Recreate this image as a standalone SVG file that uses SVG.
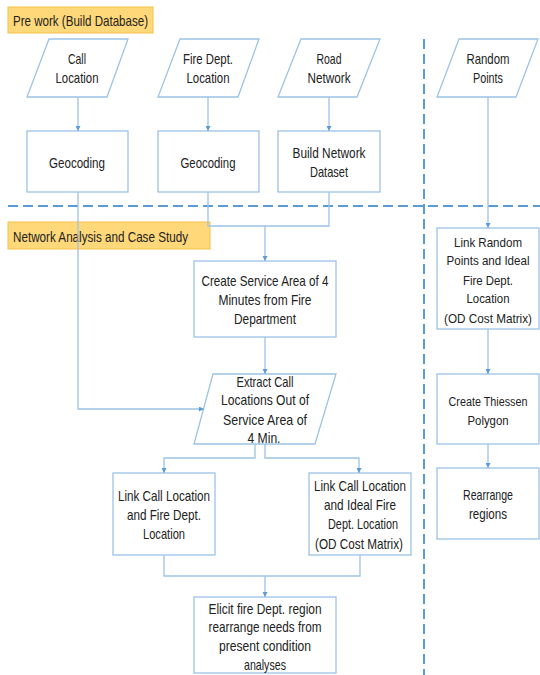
<svg xmlns="http://www.w3.org/2000/svg" width="540" height="675" viewBox="0 0 540 675">
<style>
.bg{fill:#ffffff}
.box{fill:#ffffff;stroke:#9dc3e6;stroke-width:1.3}
.hdr{fill:#ffd87a;stroke:#f5c04a;stroke-width:1}
.div{fill:none;stroke:#5b9bd5;stroke-width:2;stroke-dasharray:10 5}
.con{fill:none;stroke:#9dc3e6;stroke-width:1.3}
text{font-family:"Liberation Sans",Arial,sans-serif;font-size:15px;fill:#222222;text-anchor:middle}
text.l{text-anchor:start}
text.s{font-size:13px}
text.xs{font-size:12px}
</style>
<defs>
<marker id="ah" viewBox="0 0 10 10" refX="10" refY="5" markerWidth="5" markerHeight="5" orient="auto" markerUnits="userSpaceOnUse">
<path d="M0,0 L10,5 L0,10 z" fill="#5b9bd5"/>
</marker>
</defs>
<rect class="bg" x="0" y="0" width="540" height="675"/>

<g id="dividers">
<line class="div" x1="424" y1="39" x2="424" y2="675"/>
<line class="div" x1="8" y1="206" x2="540" y2="206"/>
</g>

<g id="header-prework">
<rect class="hdr" x="8" y="7" width="145" height="26"/>
<text class="l" x="13" y="26" textLength="135" lengthAdjust="spacingAndGlyphs">Pre work (Build Database)</text>
</g>
<g id="header-network">
<rect class="hdr" x="8" y="222" width="202" height="27"/>
<text class="l" x="13" y="242" textLength="175" lengthAdjust="spacingAndGlyphs">Network Analysis and Case Study</text>
</g>

<g id="call-location">
<polygon class="box" points="49,39 128,39 107,97 27,97"/>
<text x="77" y="64" textLength="18" lengthAdjust="spacingAndGlyphs">Call</text>
<text x="77" y="83" textLength="43" lengthAdjust="spacingAndGlyphs">Location</text>
</g>
<g id="fire-location">
<polygon class="box" points="180,39 259,39 238,97 158,97"/>
<text x="208" y="64" textLength="50" lengthAdjust="spacingAndGlyphs">Fire Dept.</text>
<text x="208" y="83" textLength="43" lengthAdjust="spacingAndGlyphs">Location</text>
</g>
<g id="road-network">
<polygon class="box" points="301,39 380,39 357,97 278,97"/>
<text x="329" y="64" textLength="25" lengthAdjust="spacingAndGlyphs">Road</text>
<text x="329" y="83" textLength="43" lengthAdjust="spacingAndGlyphs">Network</text>
</g>
<g id="random-points">
<polygon class="box" points="459,39 538,39 516,97 437,97"/>
<text x="488" y="64" textLength="43" lengthAdjust="spacingAndGlyphs">Random</text>
<text x="488" y="83" textLength="30" lengthAdjust="spacingAndGlyphs">Points</text>
</g>

<g id="geocoding-call">
<rect class="box" x="27" y="131" width="101" height="61"/>
<text x="77" y="168" textLength="56" lengthAdjust="spacingAndGlyphs">Geocoding</text>
</g>
<g id="geocoding-fire">
<rect class="box" x="158" y="131" width="101" height="61"/>
<text x="208" y="168" textLength="55" lengthAdjust="spacingAndGlyphs">Geocoding</text>
</g>
<g id="build-network">
<rect class="box" x="278" y="131" width="102" height="61"/>
<text x="329" y="158" textLength="73" lengthAdjust="spacingAndGlyphs">Build Network</text>
<text x="329" y="177" textLength="38" lengthAdjust="spacingAndGlyphs">Dataset</text>
</g>

<g id="service-area">
<rect class="box" x="194" y="261" width="142" height="76"/>
<text x="265" y="286" textLength="127" lengthAdjust="spacingAndGlyphs">Create Service Area of 4</text>
<text x="265" y="305" textLength="93" lengthAdjust="spacingAndGlyphs">Minutes from Fire</text>
<text x="265" y="324" textLength="62" lengthAdjust="spacingAndGlyphs">Department</text>
</g>

<g id="extract-call">
<polygon class="box" points="213,374 336,374 315,444 194,444"/>
<text x="265" y="387" textLength="57" lengthAdjust="spacingAndGlyphs">Extract Call</text>
<text x="265" y="405" textLength="88" lengthAdjust="spacingAndGlyphs">Locations Out of</text>
<text x="265" y="425" textLength="84" lengthAdjust="spacingAndGlyphs">Service   Area of</text>
<text x="264" y="443" textLength="33" lengthAdjust="spacingAndGlyphs">4 Min.</text>
</g>

<g id="link-call-fire">
<rect class="box" x="113" y="473" width="102" height="82"/>
<text x="164" y="501" textLength="92" lengthAdjust="spacingAndGlyphs">Link Call Location</text>
<text x="164" y="520" textLength="74" lengthAdjust="spacingAndGlyphs">and Fire Dept.</text>
<text x="164" y="539" textLength="42" lengthAdjust="spacingAndGlyphs">Location</text>
</g>

<g id="link-call-ideal">
<rect class="box" x="309" y="473" width="102" height="82"/>
<text x="360" y="491" textLength="92" lengthAdjust="spacingAndGlyphs">Link Call Location</text>
<text x="360" y="510" textLength="72" lengthAdjust="spacingAndGlyphs">and Ideal  Fire</text>
<text x="363" y="529" textLength="70" lengthAdjust="spacingAndGlyphs">Dept. Location</text>
<text x="359" y="549" textLength="88" lengthAdjust="spacingAndGlyphs">(OD Cost Matrix)</text>
</g>

<g id="elicit">
<rect class="box" x="194" y="597" width="142" height="76"/>
<text x="265" y="614" textLength="113" lengthAdjust="spacingAndGlyphs">Elicit fire Dept. region</text>
<text x="265" y="632" textLength="113" lengthAdjust="spacingAndGlyphs">rearrange  needs from</text>
<text x="265" y="651" textLength="92" lengthAdjust="spacingAndGlyphs">present condition</text>
<text x="265" y="670" textLength="42" lengthAdjust="spacingAndGlyphs">analyses</text>
</g>

<g id="link-random">
<rect class="box" x="437" y="228" width="102" height="101"/>
<text class="s" x="488" y="247" textLength="68" lengthAdjust="spacingAndGlyphs">Link Random</text>
<text class="s" x="488" y="265" textLength="83" lengthAdjust="spacingAndGlyphs">Points and Ideal</text>
<text class="s" x="488" y="285" textLength="50" lengthAdjust="spacingAndGlyphs">Fire Dept.</text>
<text class="s" x="488" y="303" textLength="43" lengthAdjust="spacingAndGlyphs">Location</text>
<text class="s" x="488" y="323" textLength="88" lengthAdjust="spacingAndGlyphs">(OD Cost Matrix)</text>
</g>

<g id="thiessen">
<rect class="box" x="437" y="374" width="102" height="70"/>
<text class="xs" x="488" y="406" textLength="79" lengthAdjust="spacingAndGlyphs">Create Thiessen</text>
<text class="s" x="488" y="425" textLength="41" lengthAdjust="spacingAndGlyphs">Polygon</text>
</g>

<g id="rearrange">
<rect class="box" x="437" y="468" width="102" height="71"/>
<text x="488" y="500" textLength="50" lengthAdjust="spacingAndGlyphs">Rearrange</text>
<text x="488" y="519" textLength="38" lengthAdjust="spacingAndGlyphs">regions</text>
</g>

<g id="connectors">
<path class="con" d="M78,97 V131" marker-end="url(#ah)"/>
<path class="con" d="M208,97 V131" marker-end="url(#ah)"/>
<path class="con" d="M329,97 V131" marker-end="url(#ah)"/>
<path class="con" d="M488,97 V228" marker-end="url(#ah)"/>
<path class="con" d="M78,192 V409 H204" marker-end="url(#ah)"/>
<path class="con" d="M208,192 V226 H265 V261" marker-end="url(#ah)"/>
<path class="con" d="M329,192 V226 H265"/>
<path class="con" d="M265,337 V374" marker-end="url(#ah)"/>
<path class="con" d="M255,444 V458 H164 V473" marker-end="url(#ah)"/>
<path class="con" d="M265,444 V458 H359 V473" marker-end="url(#ah)"/>
<path class="con" d="M164,555 V576 H265 V597" marker-end="url(#ah)"/>
<path class="con" d="M360,555 V576 H265"/>
<path class="con" d="M488,329 V374" marker-end="url(#ah)"/>
<path class="con" d="M488,444 V468" marker-end="url(#ah)"/>
</g>
</svg>
